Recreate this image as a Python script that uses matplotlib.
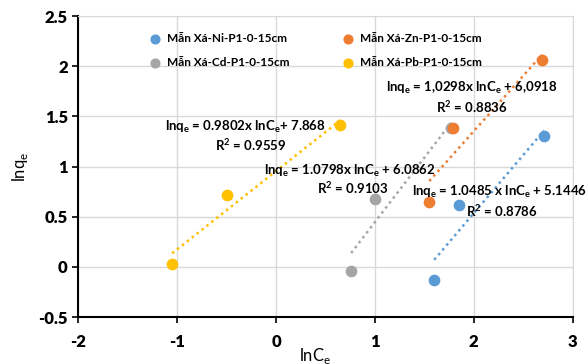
import numpy as np
import matplotlib
matplotlib.use('Agg')
from matplotlib import pyplot as plt

plt.rcParams['font.family'] = ['Lato', 'DejaVu Sans']
plt.rcParams['axes.unicode_minus'] = False

# lnCe / lnqe
series_names = ['Mẫn Xá-Ni-P1-0-15cm', 'Mẫn Xá-Cd-P1-0-15cm',
                'Mẫn Xá-Zn-P1-0-15cm', 'Mẫn Xá-Pb-P1-0-15cm']
colors = ['#5B9BD5', '#A5A5A5', '#ED7D31', '#FFC000']
ni_x = [1.60, 1.85, 2.71]
ni_y = [-0.13, 0.62, 1.30]
cd_x = [0.76, 1.00, 1.77]
cd_y = [-0.04, 0.68, 1.38]
zn_x = [1.55, 1.79, 2.69]
zn_y = [0.65, 1.38, 2.06]
pb_x = [-1.05, -0.50, 0.65]
pb_y = [0.03, 0.72, 1.41]

E = r'$_\mathregular{e}$'
equations = ['lnq' + E + ' = 1.0485 x lnC' + E + ' + 5.1446',
             'lnq' + E + ' = 1.0798x lnC' + E + ' + 6.0862',
             'lnq' + E + ' = 1,0298x lnC' + E + ' + 6,0918',
             'lnq' + E + ' = 0.9802x lnC' + E + '+ 7.868']
r2_values = [r'R$^\mathregular{2}$ = 0.8786', r'R$^\mathregular{2}$ = 0.9103',
             r'R$^\mathregular{2}$ = 0.8836', r'R$^\mathregular{2}$ = 0.9559']
eq_pos = [(2.26, 0.75), (0.75, 0.96), (1.98, 1.78), (-0.31, 1.39)]
r2_pos = [(2.28, 0.56), (0.78, 0.79), (1.98, 1.59), (-0.26, 1.21)]

xs = [ni_x, cd_x, zn_x, pb_x]
ys = [ni_y, cd_y, zn_y, pb_y]

fig = plt.figure(figsize=(5.88, 3.64), dpi=100)
ax = fig.add_axes([0.133, 0.129, 0.841, 0.827])

for name, c, x, y in zip(series_names, colors, xs, ys):
    ax.scatter(x, y, s=55, color=c, label=name, zorder=3)
    k, b = np.polyfit(x, y, 1)
    xx = np.array([min(x), max(x)])
    ax.plot(xx, k * xx + b, linestyle=(0, (1, 1.5)), color=c, linewidth=1.8, zorder=2)

for eq, r2, p1, p2 in zip(equations, r2_values, eq_pos, r2_pos):
    ax.text(p1[0], p1[1], eq, ha='center', va='center', fontsize=9.5, fontweight='bold', zorder=4)
    ax.text(p2[0], p2[1], r2, ha='center', va='center', fontsize=9.5, fontweight='bold', zorder=4)

ax.set_xlim(-2, 3)
ax.set_ylim(-0.5, 2.5)
ax.set_xticks([-2, -1, 0, 1, 2, 3])
ax.set_yticks([-0.5, 0, 0.5, 1, 1.5, 2, 2.5])
ax.set_yticklabels(['-0.5', '0', '0.5', '1', '1.5', '2', '2.5'])
ax.grid(True, color='#D9D9D9', linewidth=1)
ax.set_axisbelow(True)
for lab in ax.get_xticklabels() + ax.get_yticklabels():
    lab.set_fontweight('heavy')
ax.tick_params(labelsize=12, length=4, width=1.2, colors='black')
ax.tick_params(axis='x', pad=8)
ax.spines['left'].set_linewidth(1.5)
ax.spines['bottom'].set_linewidth(1.5)
ax.spines['top'].set_color('#D9D9D9')
ax.spines['right'].set_color('#D9D9D9')

ax.set_xlabel('lnC' + E, fontsize=12, x=0.48, labelpad=-3)
ax.set_ylabel('lnq' + E, fontsize=12, labelpad=6)

leg = ax.legend(ncol=2, loc='upper left', bbox_to_anchor=(0.11, 0.98), frameon=False,
                prop={'size': 8.5, 'weight': 'bold'}, handletextpad=0.0, columnspacing=4.0,
                labelspacing=1.1, scatterpoints=1, markerscale=0.85)

plt.savefig('out.png')
